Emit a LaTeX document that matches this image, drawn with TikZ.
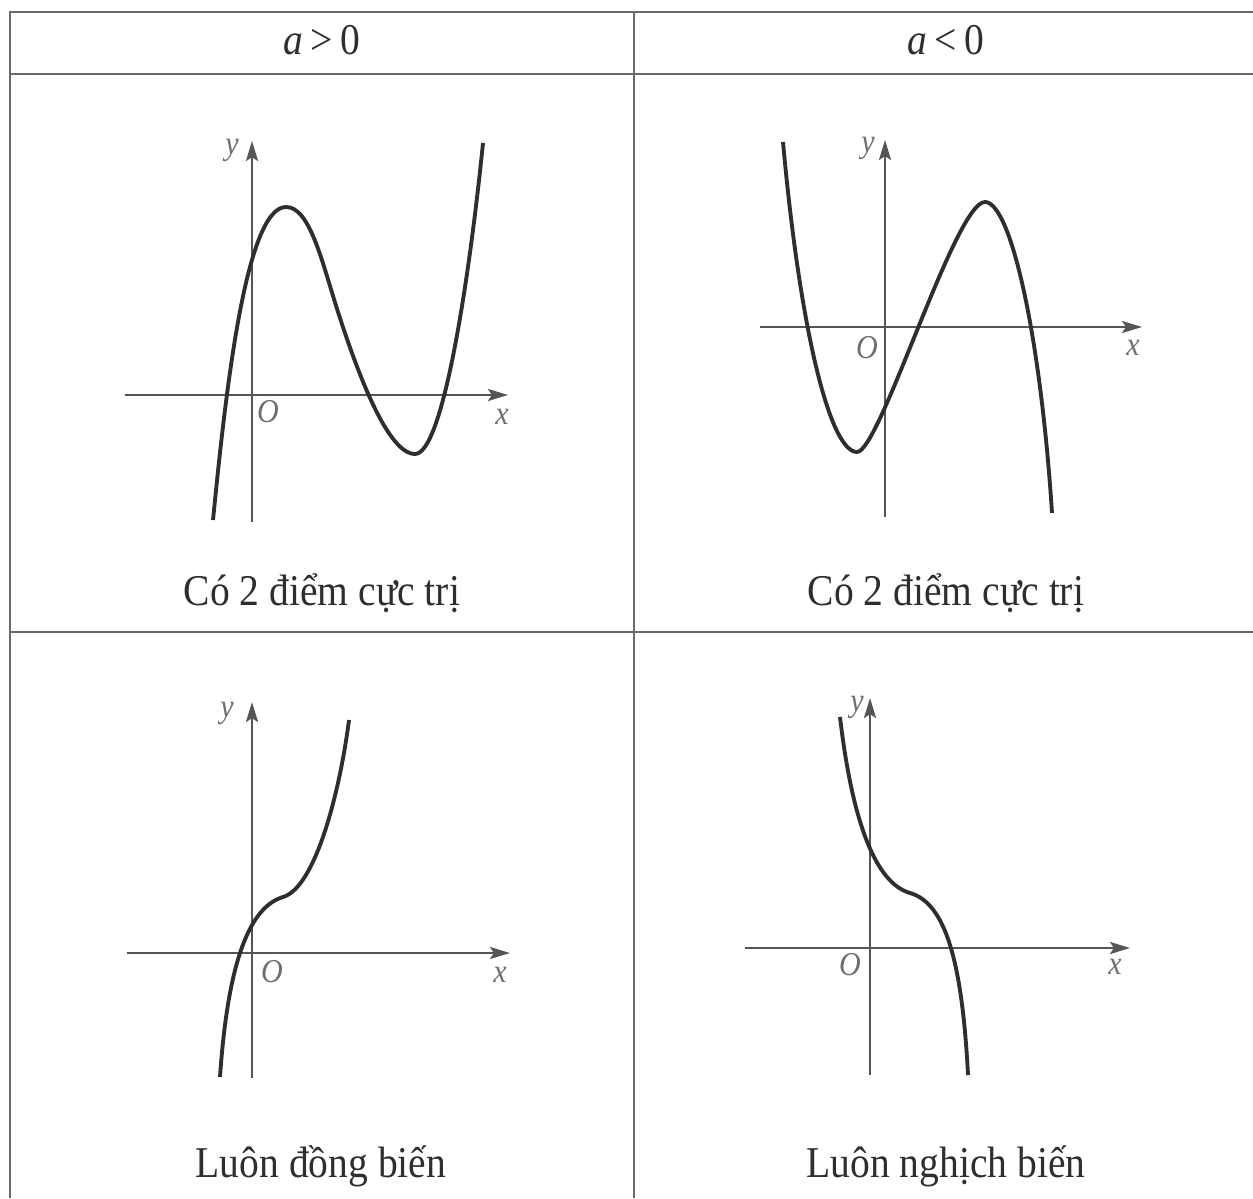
\documentclass[tikz,border=0pt]{standalone}
\usepackage{fontspec}
\setmainfont{Liberation Serif}[FakeStretch=0.9]
\usetikzlibrary{arrows.meta}
\definecolor{rule}{HTML}{6A6A6A}
\definecolor{axisgray}{HTML}{555555}
\definecolor{curveink}{HTML}{2E2E2E}
\definecolor{labgray}{HTML}{6E6E6E}
\tikzset{
  grid/.style={draw=rule,line width=0.55pt},
  axis/.style={draw=axisgray,line width=0.8pt,-{Stealth[length=2mm,width=1.2mm,inset=0.4mm]}},
  graph/.style={draw=curveink,line width=1.1pt},
  txt/.style={text=curveink,font=\fontsize{12.5}{14}\selectfont,anchor=base,inner sep=0pt},
  lab/.style={text=labgray,font=\fontsize{9.5}{10}\selectfont\itshape,inner sep=0pt}
}
\begin{document}
\begin{tikzpicture}[x=0.1mm,y=-0.1mm]
\useasboundingbox (0,0) rectangle (1253,1198);
\draw[grid] (10,1198) -- (10,12) -- (1253,12);
\draw[grid] (10,74) -- (1253,74);
\draw[grid] (10,632) -- (1253,632);
\draw[grid] (634,12) -- (634,1198);
\node[txt] (hdpos) at (322,55) {\textit{a}\,>\,0};
\node[txt] (hdneg) at (946,55) {\textit{a}\,<\,0};
\node[txt] (captl) at (322,605) {Có 2 điểm cực trị};
\node[txt] (captr) at (946,605) {Có 2 điểm cực trị};
\node[txt] (capbl) at (321,1177) {Luôn đồng biến};
\node[txt] (capbr) at (946,1177) {Luôn nghịch biến};

\draw[axis] (125,395) -- (508,395);
\draw[axis] (252,522) -- (252,141);
\node[lab] (otl) at (268,412) {O};
\node[lab] (xtl) at (502,417) {x};
\node[lab] (ytl) at (232,150) {y};
\draw[graph] (213,520) .. controls (225,400) and (245,207) .. (286,207)
  .. controls (310,207) and (322,262) .. (338,312)
  .. controls (352,355) and (385,454) .. (415,454)
  .. controls (442,454) and (468,290) .. (483,143);

\draw[axis] (760,327) -- (1142,327);
\draw[axis] (885,517) -- (885,140);
\node[lab] (otr) at (867,348) {O};
\node[lab] (xtr) at (1133,348) {x};
\node[lab] (ytr) at (868,148) {y};
\draw[graph] (783,142) .. controls (800,330) and (830,452) .. (857,452)
  .. controls (880,452) and (955,202) .. (985,202)
  .. controls (1010,202) and (1040,330) .. (1052,513);

\draw[axis] (127,953) -- (510,953);
\draw[axis] (252,1078) -- (252,702);
\node[lab] (obl) at (272,972) {O};
\node[lab] (xbl) at (500,975) {x};
\node[lab] (ybl) at (227,713) {y};
\draw[graph] (220,1077) .. controls (228,960) and (250,907) .. (283,897)
  .. controls (316,887) and (340,790) .. (349,720);

\draw[axis] (745,948) -- (1130,948);
\draw[axis] (870,1075) -- (870,698);
\node[lab] (obr) at (850,965) {O};
\node[lab] (xbr) at (1115,967) {x};
\node[lab] (ybr) at (857,707) {y};
\draw[graph] (840,717) .. controls (852,820) and (875,883) .. (910,893)
  .. controls (945,903) and (962,960) .. (968,1075);
\end{tikzpicture}
\end{document}
